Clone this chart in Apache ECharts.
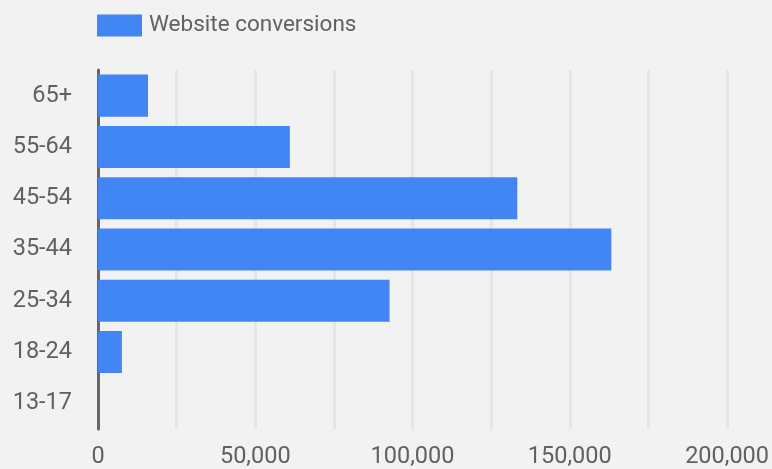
<!DOCTYPE html>
<html>
<head>
<meta charset="utf-8">
<script src="https://cdn.jsdelivr.net/npm/echarts@6/dist/echarts.min.js"></script>
<style>
  html, body { margin: 0; padding: 0; background: #f2f2f2; }
  #chart { width: 772px; height: 469px; }
</style>
</head>
<body>
<div id="chart"></div>
<script>
// Age groups, listed bottom to top
const ageGroups = ['13-17', '18-24', '25-34', '35-44', '45-54', '55-64', '65+'];
const conversions = [0, 7600, 92700, 163200, 133300, 61000, 15900];
const seriesName = 'Website conversions';
const xTicks = [0, 50000, 100000, 150000, 200000];

const chart = echarts.init(document.getElementById('chart'), null, { renderer: 'canvas' });
const textColor = '#616161';
const font = 'Roboto, sans-serif';

chart.setOption({
  backgroundColor: '#f2f2f2',
  animation: false,
  legend: {
    left: 97,
    top: 14,
    padding: 0,
    itemWidth: 45,
    itemHeight: 22,
    itemGap: 7,
    icon: 'rect',
    textStyle: { color: textColor, fontSize: 22.5, fontFamily: font, padding: [0, 0, 0, 2] },
    data: [seriesName]
  },
  grid: { left: 98, right: 44, top: 70, bottom: 39, containLabel: false },
  xAxis: {
    type: 'value',
    min: 0,
    max: 200000,
    interval: 25000,
    axisLine: { show: false },
    axisTick: { show: false },
    splitLine: { show: true, lineStyle: { color: '#e6e6e6', width: 3 } },
    axisLabel: {
      color: textColor,
      fontSize: 23.5,
      fontFamily: font,
      margin: 16,
      formatter: v => xTicks.includes(v) ? v.toLocaleString('en-US') : ''
    }
  },
  yAxis: {
    type: 'category',
    data: ageGroups,
    axisLine: { show: true, onZero: false, lineStyle: { color: '#666666', width: 3 } },
    axisTick: { show: false },
    axisLabel: { color: textColor, fontSize: 23.5, fontFamily: font, margin: 26 }
  },
  series: [{
    name: seriesName,
    type: 'bar',
    data: conversions,
    barCategoryGap: '18%',
    itemStyle: { color: '#4285f4' }
  }]
});
</script>
</body>
</html>
